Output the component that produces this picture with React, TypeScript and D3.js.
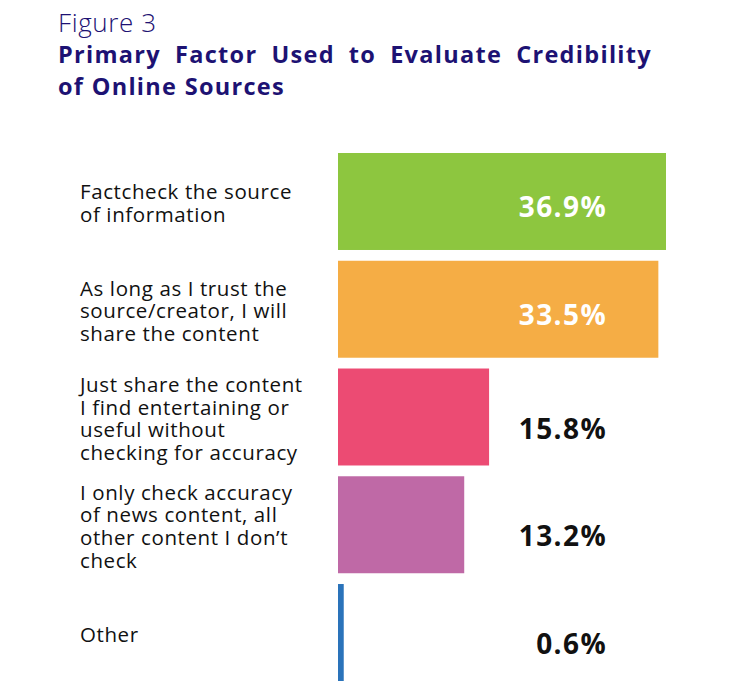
import React, { useLayoutEffect, useRef } from "react";
import * as d3 from "d3";

const labelLines: string[][] = [
  ["Factcheck the source", "of information"],
  ["As long as I trust the", "source/creator, I will", "share the content"],
  ["Just share the content", "I find entertaining or", "useful without", "checking for accuracy"],
  ["I only check accuracy", "of news content, all", "other content I don\u2019t", "check"],
  ["Other"],
];
const values: number[] = [36.9, 33.5, 15.8, 13.2, 0.6];
const colors: string[] = ["#8DC63F", "#F5AD45", "#EC4B73", "#BF69A6", "#2A73BA"];
const insideLabel: boolean[] = [true, true, false, false, false];

const NAVY = "#1D1273";
const W = 751;
const H = 691;

export default function App() {
  const titleRef = useRef<SVGTextElement>(null);

  useLayoutEffect(() => {
    const el = titleRef.current;
    if (!el) return;
    const target = 652 - 58;
    el.setAttribute("word-spacing", "0");
    const w = el.getComputedTextLength();
    const words = (el.textContent || "").split(" ").length;
    const ws = (target - w) / (words - 1);
    el.setAttribute("word-spacing", String(Math.max(0, ws)));
  }, []);

  const idx = values.map((_, i) => i);
  const y = d3.scaleBand<number>().domain(idx).range([153, 681]).paddingInner(0.1).paddingOuter(0);
  const x = d3.scaleLinear().domain([0, 34.3]).range([338, 666]).clamp(true);
  const lineH = 22.7;

  return (
    <svg
      width={W}
      height={H}
      style={{ position: "absolute", left: 0, top: 0, background: "#fff" }}
      fontFamily="'Open Sans', sans-serif"
    >
      <text x={58} y={32} fontSize={26} fontWeight={300} fill={NAVY} letterSpacing={0.6}>
        Figure 3
      </text>
      <text ref={titleRef} x={58} y={63} fontSize={23.5} fontWeight={700} fill={NAVY} letterSpacing={1.3}>
        Primary Factor Used to Evaluate Credibility
      </text>
      <text x={58} y={95} fontSize={23.5} fontWeight={700} fill={NAVY} letterSpacing={1.3}>
        of Online Sources
      </text>

      {idx.map((i) => {
        const y0 = y(i)!;
        const bh = y.bandwidth();
        const cy = y0 + bh / 2;
        const lines = labelLines[i];
        const blockTop = cy + 2 - ((lines.length - 1) * lineH) / 2;
        return (
          <g key={i}>
            <rect x={x(0)} y={y0} width={x(values[i]) - x(0)} height={bh} fill={colors[i]} />
            <text
              x={607}
              y={cy + (insideLabel[i] ? 15.5 : 21.5)}
              textAnchor="end"
              fontSize={28}
              fontWeight={700}
              letterSpacing={1.4}
              fill={insideLabel[i] ? "#ffffff" : "#111111"}
            >
              {values[i].toFixed(1)}%
            </text>
            <text fontSize={20.5} fill="#111111" letterSpacing={0.6}>
              {lines.map((ln, j) => (
                <tspan key={j} x={80} y={blockTop + j * lineH + 7}>
                  {ln}
                </tspan>
              ))}
            </text>
          </g>
        );
      })}
    </svg>
  );
}
